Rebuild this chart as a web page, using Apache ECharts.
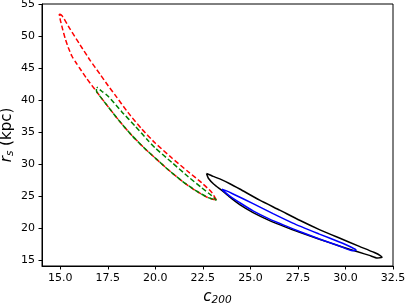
<!DOCTYPE html>
<html>
<head>
<meta charset="utf-8">
<script src="https://cdn.jsdelivr.net/npm/echarts@6/dist/echarts.min.js"></script>
<style>html,body{margin:0;padding:0;background:#fff}#c{width:407px;height:303px}</style>
</head>
<body>
<div id="c"></div>
<script>
const xTicks = [15.0, 17.5, 20.0, 22.5, 25.0, 27.5, 30.0, 32.5];
const yTicks = [15, 20, 25, 30, 35, 40, 45, 50, 55];

// closed contours, [c200, r_s] pairs
const redContour = [
  [14.95,53.54],[15.09,53.28],[15.52,51.17],[16.05,48.67],[16.57,46.28],[17.10,44.06],
  [17.53,42.26],[17.88,40.86],[18.58,38.04],[19.28,35.54],[19.98,33.36],[20.86,31.01],
  [21.73,28.83],[22.43,27.11],[22.96,25.62],[23.22,24.37],
  [22.78,24.76],[22.08,25.94],[21.38,27.42],[20.68,29.14],[19.98,31.01],[19.46,32.42],
  [18.76,34.53],[18.06,36.95],[17.36,39.61],[16.92,41.33],[16.40,43.39],[16.05,44.92],
  [15.84,45.86],[15.61,46.95],[15.42,48.28],[15.26,49.69],[15.13,51.09],[15.00,52.65],[14.95,53.54]
];
const greenContour = [
  [16.92,42.08],[17.20,41.40],[17.53,40.62],[18.24,38.20],[18.93,36.01],[19.63,33.67],
  [19.98,32.58],[20.86,30.31],[21.73,28.04],[22.43,26.33],[22.96,25.08],[23.21,24.37],
  [22.78,24.76],[22.08,25.94],[21.38,27.42],[20.68,29.14],[19.98,31.01],[19.46,32.42],
  [18.76,34.53],[18.06,36.95],[17.36,39.61],[16.92,41.33],[16.90,41.80],[16.92,42.08]
];
const blackContour = [
  [22.69,28.54],[23.04,28.10],[23.39,27.70],[23.92,26.95],[24.44,26.12],[25.49,24.37],
  [26.54,22.81],[27.59,21.22],[28.63,19.76],[29.68,18.44],[30.73,17.14],[31.52,16.17],
  [31.83,15.70],[31.92,15.42],[31.68,15.31],[31.26,15.72],[30.73,16.20],[29.68,17.20],
  [28.63,18.25],[27.59,19.34],[26.89,20.11],[26.01,21.17],[25.14,22.42],[24.44,23.67],
  [23.92,24.84],[23.48,25.94],[23.08,26.87],[22.79,27.81],[22.69,28.54]
];
const blueContour = [
  [23.50,26.09],[23.71,25.86],[24.09,25.34],[25.14,23.83],[26.19,22.26],[27.23,20.78],
  [28.63,19.06],[29.68,17.81],[30.31,17.00],[30.56,16.56],[30.37,16.45],[29.68,17.19],
  [28.63,18.29],[27.59,19.46],[26.89,20.30],[26.01,21.40],[25.14,22.69],[24.44,23.98],
  [23.92,25.00],[23.63,25.70],[23.50,26.09]
];

const FONT = 'DejaVu Sans';
const chart = echarts.init(document.getElementById('c'), null, {renderer:'canvas'});

function contour(data, color, dashed, offset) {
  const ls = {color: color, width: 1.5, type: dashed ? [5, 2.5] : 'solid'};
  if (offset) ls.dashOffset = offset;
  return {
    type: 'line', data: data, showSymbol: false, symbol: 'none', smooth: 0.2,
    silent: true, animation: false, lineStyle: ls
  };
}

chart.setOption({
  animation: false,
  backgroundColor: '#fff',
  grid: {left: 42, right: 14, top: 4, bottom: 37, show: true, borderColor: '#000', borderWidth: 1,
    outerBoundsMode: 'none', containLabel: false},
  xAxis: {
    type: 'value', min: 14.04, max: 32.5,
    name: '{i|c}{s|200}', nameLocation: 'middle', nameGap: 22, nameMoveOverlap: false,
    nameTextStyle: {rich: {
      i: {fontFamily: FONT, fontStyle: 'italic', fontSize: 15, color: '#000'},
      s: {fontFamily: FONT, fontStyle: 'italic', fontSize: 10.5, color: '#000', verticalAlign: 'bottom', padding: [7,0,0,0]}
    }},
    axisLine: {show: true, onZero: false, lineStyle: {color: '#000', width: 1}},
    axisTick: {show: true, length: 3.5, inside: false, customValues: xTicks, lineStyle: {color: '#000'}},
    axisLabel: {customValues: xTicks, fontFamily: FONT, fontSize: 11, color: '#000', margin: 7,
      formatter: v => Number(v).toFixed(1)},
    splitLine: {show: false}
  },
  yAxis: {
    type: 'value', min: 14.06, max: 55.1,
    name: '{i|r}{s|s}{n| (kpc)}', nameLocation: 'middle', nameGap: 26, nameRotate: 90, nameMoveOverlap: false,
    nameTextStyle: {rich: {
      i: {fontFamily: FONT, fontStyle: 'italic', fontSize: 15, color: '#000'},
      s: {fontFamily: FONT, fontStyle: 'italic', fontSize: 10.5, color: '#000', verticalAlign: 'bottom', padding: [7,0,0,0]},
      n: {fontFamily: FONT, fontSize: 15, color: '#000'}
    }},
    axisLine: {show: true, onZero: false, lineStyle: {color: '#000', width: 1}},
    axisTick: {show: true, length: 3.5, inside: false, customValues: yTicks, lineStyle: {color: '#000'}},
    axisLabel: {customValues: yTicks, fontFamily: FONT, fontSize: 11, color: '#000', margin: 7},
    splitLine: {show: false}
  },
  series: [
    contour(redContour, '#ff0000', true, 0),
    contour(greenContour, '#008000', true, 3.75),
    contour(blackContour, '#000000', false, 0),
    contour(blueContour, '#0000ff', false, 0)
  ]
});
</script>
</body>
</html>
